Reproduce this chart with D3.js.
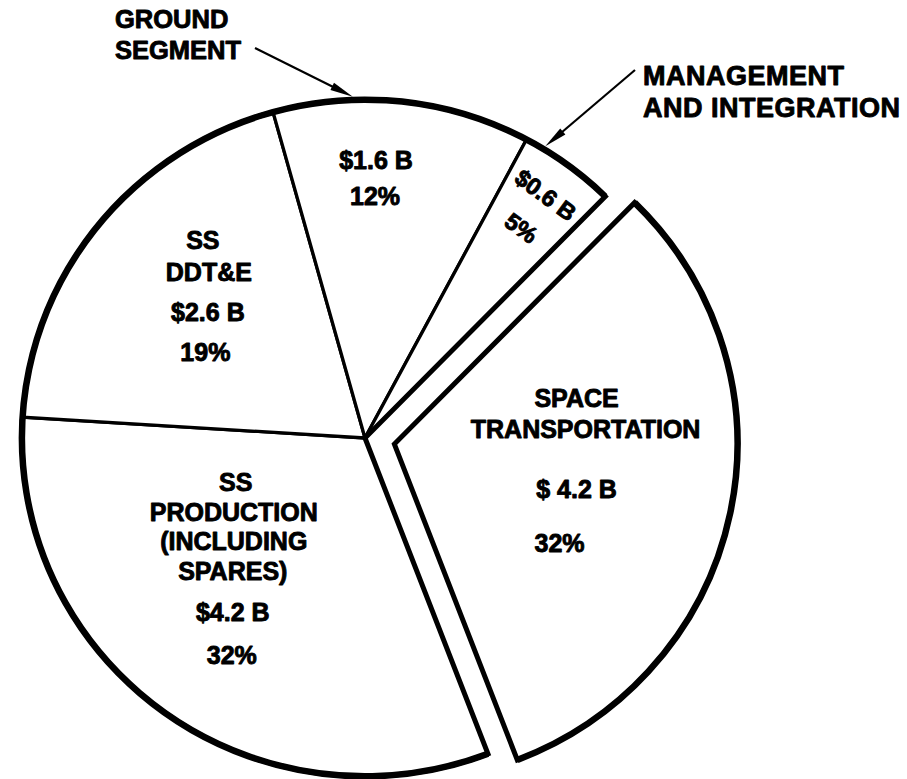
<!DOCTYPE html>
<html>
<head>
<meta charset="utf-8">
<script src="https://cdn.jsdelivr.net/npm/d3@7"></script>
<style>
  html, body { margin: 0; padding: 0; background: #fff; }
  svg { display: block; }
  text {
    font-family: "Liberation Sans", Arial, Helvetica, sans-serif; font-weight: bold;
    fill: #000; stroke: #000; stroke-width: 0.9px; stroke-linejoin: round;
  }
</style>
</head>
<body>
<svg id="chart" width="907" height="779"></svg>
<script>
// Program cost breakdown (billions of dollars), clockwise from the lower left
const categories = ["SS PRODUCTION", "SS DDT&E", "GROUND SEGMENT", "MANAGEMENT AND INTEGRATION", "SPACE TRANSPORTATION"];
const costs = [4.2, 2.6, 1.6, 0.6, 4.2];
const valueLabels = ["$4.2 B", "$2.6 B", "$1.6 B", "$0.6 B", "$ 4.2 B"];
const percentLabels = ["32%", "19%", "12%", "5%", "32%"];
const insideNames = [
  ["SS", "PRODUCTION", "(INCLUDING", "SPARES)"],
  ["SS", "DDT&E"],
  [],
  [],
  ["SPACE", "TRANSPORTATION"]
];
const explodedSlice = [false, false, false, false, true];
const calloutNames = [
  { slice: 2, lines: ["GROUND", "SEGMENT"] },
  { slice: 3, lines: ["MANAGEMENT", "AND INTEGRATION"] }
];

// ---- layout ----
const cx = 365, cy = 438, R = 340, sx = 1.009, sy = 0.995;
const startDeg = 159;
const explodeBy = 30;
const rad = d => d * Math.PI / 180;

// label block placement inside each slice: angular fraction, radius, line offsets
const labelLayout = [
  { frac: 0.576, r: 184, dy: [-77, -47, -18, 12, 53, 96], dx: [2, 0, 0, -1, -1, -2] },
  { frac: 0.547, r: 212, dy: [-47, -15, 25, 65], dx: [-4, 2, 1, -1.5] },
  { frac: 0.413, r: 253, dy: [-18, 18], dx: [0, -1] },
  { frac: 0.5, radial: [303, 262], size: 23.5 },
  { frac: 0.47, r: 187.5, dy: [-64, -33, 27, 81], dx: [-5, 4, -5, -22] }
];
const calloutLayout = [
  { x: 115, y: [28, 59], size: 25.5, spacing: 0, from: [255, 48], frac: 0.31 },
  { x: 643, y: [85, 117], size: 27, spacing: 0.5, from: [635, 70], frac: 0.2 }
];

const svg = d3.select("#chart");
svg.append("rect").attr("width", 907).attr("height", 779).attr("fill", "#fff");

const pie = d3.pie().sort(null).value(d => d)
  .startAngle(rad(startDeg)).endAngle(rad(startDeg) + 2 * Math.PI);
const arcs = pie(costs);
const arcGen = d3.arc().innerRadius(0).outerRadius(R);

function offsetOf(i) {
  if (!explodedSlice[i]) return [0, 0];
  const m = (arcs[i].startAngle + arcs[i].endAngle) / 2;
  return [explodeBy * Math.sin(m), -explodeBy * Math.cos(m)];
}
function pt(a, r, off) {
  return [cx + off[0] + sx * r * Math.sin(a), cy + off[1] - sy * r * Math.cos(a)];
}
function rimPath(a0, a1) {
  const p = d3.path();
  p.arc(0, 0, R, a0 - Math.PI / 2, a1 - Math.PI / 2);
  return p.toString();
}

// slices in place: thin dividers, then the heavier outline of the whole group
const inPlace = arcs.map((a, i) => i).filter(i => !explodedSlice[i]);
const gMain = svg.append("g").attr("transform", `translate(${cx},${cy}) scale(${sx},${sy})`);
gMain.selectAll("path.slice").data(inPlace.map(i => arcs[i])).join("path")
  .attr("class", "slice")
  .attr("d", arcGen)
  .attr("fill", "#fff").attr("stroke", "#000").attr("stroke-width", 3.3)
  .attr("stroke-linejoin", "miter").attr("vector-effect", "non-scaling-stroke");
const g0 = arcs[inPlace[0]].startAngle, g1 = arcs[inPlace[inPlace.length - 1]].endAngle;
gMain.append("path")
  .attr("d", arcGen({ startAngle: g0, endAngle: g1 }))
  .attr("fill", "none").attr("stroke", "#000").attr("stroke-width", 5)
  .attr("stroke-linejoin", "miter").attr("vector-effect", "non-scaling-stroke");
gMain.append("path")
  .attr("d", rimPath(g0, g1))
  .attr("fill", "none").attr("stroke", "#000").attr("stroke-width", 6.5)
  .attr("vector-effect", "non-scaling-stroke");

// exploded slice
arcs.forEach((a, i) => {
  if (!explodedSlice[i]) return;
  const off = offsetOf(i);
  const g = svg.append("g").attr("transform", `translate(${cx + off[0]},${cy + off[1]}) scale(${sx},${sy})`);
  g.append("path").attr("d", arcGen(a))
    .attr("fill", "#fff").attr("stroke", "#000").attr("stroke-width", 5)
    .attr("stroke-linejoin", "miter").attr("vector-effect", "non-scaling-stroke");
  g.append("path").attr("d", rimPath(a.startAngle, a.endAngle))
    .attr("fill", "none").attr("stroke", "#000").attr("stroke-width", 6.5)
    .attr("vector-effect", "non-scaling-stroke");
});

// labels inside slices
const labels = svg.append("g").attr("font-size", 25);
arcs.forEach((a, i) => {
  const L = labelLayout[i];
  const off = offsetOf(i);
  const ang = a.startAngle + L.frac * (a.endAngle - a.startAngle);
  const lines = insideNames[i].concat([valueLabels[i], percentLabels[i]]);
  if (L.radial) {
    // narrow slice: stack lines along the radius, set tangentially
    lines.forEach((t, k) => {
      const p = pt(ang, L.radial[k], off);
      labels.append("text")
        .attr("transform", `translate(${p[0]},${p[1]}) rotate(${ang * 180 / Math.PI})`)
        .attr("font-size", L.size)
        .attr("text-anchor", "middle").attr("y", 8.5).text(t);
    });
  } else {
    const p = pt(ang, L.r, off);
    lines.forEach((t, k) => {
      labels.append("text")
        .attr("x", p[0] + L.dx[k]).attr("y", p[1] + L.dy[k])
        .attr("text-anchor", "middle").text(t);
    });
  }
});

// callouts with arrows pointing at the rim
const callouts = svg.append("g");
calloutNames.forEach((c, j) => {
  const C = calloutLayout[j];
  const a = arcs[c.slice];
  c.lines.forEach((t, k) => {
    callouts.append("text").attr("x", C.x).attr("y", C.y[k])
      .attr("font-size", C.size).attr("letter-spacing", C.spacing).text(t);
  });
  const ang = a.startAngle + C.frac * (a.endAngle - a.startAngle);
  const tip = pt(ang, R + 3.3, offsetOf(c.slice));
  const from = C.from;
  const dx = tip[0] - from[0], dy = tip[1] - from[1];
  const len = Math.hypot(dx, dy), ux = dx / len, uy = dy / len;
  const headLen = 23, headHalf = 4;
  const bx = tip[0] - ux * headLen, by = tip[1] - uy * headLen;
  callouts.append("line")
    .attr("x1", from[0]).attr("y1", from[1]).attr("x2", bx + ux * 4).attr("y2", by + uy * 4)
    .attr("stroke", "#000").attr("stroke-width", 2.2);
  callouts.append("path")
    .attr("d", `M${tip[0]},${tip[1]}L${bx - uy * headHalf},${by + ux * headHalf}L${bx + uy * headHalf},${by - ux * headHalf}Z`)
    .attr("fill", "#000");
});
</script>
</body>
</html>
